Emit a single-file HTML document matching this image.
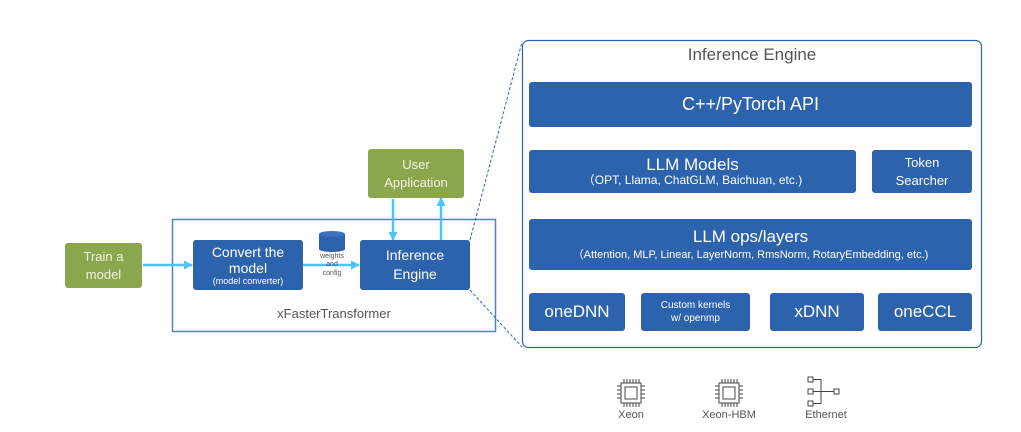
<!DOCTYPE html><html><head><style>
body{margin:0;width:1021px;height:432px;background:#fff;position:relative;overflow:hidden;font-family:"Liberation Sans",sans-serif}
.b{position:absolute;background:#2d63ad;color:#fff;display:flex;flex-direction:column;align-items:center;justify-content:center;text-align:center;border-radius:3px;line-height:1.15}
.g{position:absolute;background:#8ba64c;color:#f0f4e4;display:flex;flex-direction:column;align-items:center;justify-content:center;text-align:center;border-radius:3px;font-size:13px;line-height:1.35}
.t{position:absolute;color:#555;font-size:11px;text-align:center}
</style></head><body>
<svg width="1021" height="432" style="position:absolute;left:0;top:0">
<defs><marker id="a" markerUnits="userSpaceOnUse" markerWidth="9" markerHeight="9" refX="8" refY="4.5" orient="auto"><path d="M0,0L9,4.5L0,9z" fill="#4fc3f7"/></marker></defs>
<rect x="172.5" y="219.5" width="323" height="112" fill="none" stroke="#4a86c8" stroke-width="1.5"/>
<rect x="522.5" y="40.5" width="459" height="307" rx="6" fill="none" stroke="#2d63ad" stroke-width="1.2"/>
<line x1="470" y1="240" x2="522" y2="42" stroke="#2d63ad" stroke-dasharray="3,2"/>
<line x1="470" y1="290" x2="522" y2="347" stroke="#2d63ad" stroke-dasharray="3,2"/>
<g stroke="#4fc3f7" stroke-width="2.5" fill="none" marker-end="url(#a)">
<line x1="143" y1="265" x2="192" y2="265"/>
<line x1="303" y1="265" x2="359" y2="265"/>
<line x1="393" y1="199" x2="393" y2="240"/>
<line x1="441" y1="240" x2="441" y2="198"/>
</g>
<ellipse cx="332" cy="249" rx="13" ry="3" fill="#2d63ad"/>
<rect x="319" y="234" width="26" height="15" fill="#2d63ad"/>
<ellipse cx="332" cy="234" rx="13" ry="3" fill="#3a72bd"/>
<g stroke="#444" fill="none" stroke-width="1">
<rect x="621" y="383" width="20" height="20"/><rect x="625" y="387" width="12" height="12"/>
<path d="M624 379v4M627 379v4M630 379v4M633 379v4M636 379v4M639 379v4M624 403v4M627 403v4M630 403v4M633 403v4M636 403v4M639 403v4M617 386h4M617 390h4M617 394h4M617 398h4M641 386h4M641 390h4M641 394h4M641 398h4"/>
<rect x="719" y="383" width="20" height="20"/><rect x="723" y="387" width="12" height="12"/>
<path d="M722 379v4M725 379v4M728 379v4M731 379v4M734 379v4M737 379v4M722 403v4M725 403v4M728 403v4M731 403v4M734 403v4M737 403v4M715 386h4M715 390h4M715 394h4M715 398h4M739 386h4M739 390h4M739 394h4M739 398h4"/>
<rect x="808" y="377" width="5" height="5"/><rect x="808" y="389" width="5" height="5"/><rect x="808" y="401" width="5" height="5"/><rect x="834" y="389" width="5" height="5"/>
<path d="M813 379.5h8v24h-8M813 391.5h21"/>
</g>
</svg>
<div class="g" style="left:65px;top:243px;width:77px;height:45px">Train a<br>model</div>
<div class="g" style="left:368px;top:149px;width:96px;height:49px">User<br>Application</div>
<div class="b" style="left:193px;top:240px;width:110px;height:50px;font-size:14px">Convert the<br>model<span style="font-size:9px">(model converter)</span></div>
<div class="b" style="left:360px;top:240px;width:110px;height:50px;font-size:14px;line-height:1.35">Inference<br>Engine</div>
<div class="t" style="left:314px;top:253px;width:36px;font-size:7px;line-height:1.2">weights<br>and<br>config</div>
<div class="t" style="left:172px;top:306px;width:324px;font-size:13px">xFasterTransformer</div>
<div class="t" style="left:522px;top:45px;width:460px;font-size:17px">Inference Engine</div>
<div class="b" style="left:529px;top:82px;width:443px;height:45px;font-size:18px">C++/PyTorch API</div>
<div class="b" style="left:529px;top:150px;width:327px;height:43px;font-size:17px">LLM Models<span style="font-size:12px">（OPT, Llama, ChatGLM, Baichuan, etc.)</span></div>
<div class="b" style="left:872px;top:150px;width:100px;height:43px;font-size:13px;line-height:1.35">Token<br>Searcher</div>
<div class="b" style="left:529px;top:219px;width:443px;height:51px;font-size:17px">LLM ops/layers<span style="font-size:11px;margin-top:3px">（Attention, MLP, Linear, LayerNorm, RmsNorm, RotaryEmbedding, etc.)</span></div>
<div class="b" style="left:529px;top:293px;width:96px;height:38px;font-size:17px">oneDNN</div>
<div class="b" style="left:641px;top:293px;width:109px;height:38px;font-size:10px;line-height:1.3">Custom kernels<br>w/ openmp</div>
<div class="b" style="left:770px;top:293px;width:94px;height:38px;font-size:17px">xDNN</div>
<div class="b" style="left:878px;top:293px;width:94px;height:38px;font-size:17px">oneCCL</div>
<div class="t" style="left:601px;top:409px;width:60px">Xeon</div>
<div class="t" style="left:689px;top:409px;width:80px">Xeon-HBM</div>
<div class="t" style="left:786px;top:409px;width:80px">Ethernet</div>
</body></html>
